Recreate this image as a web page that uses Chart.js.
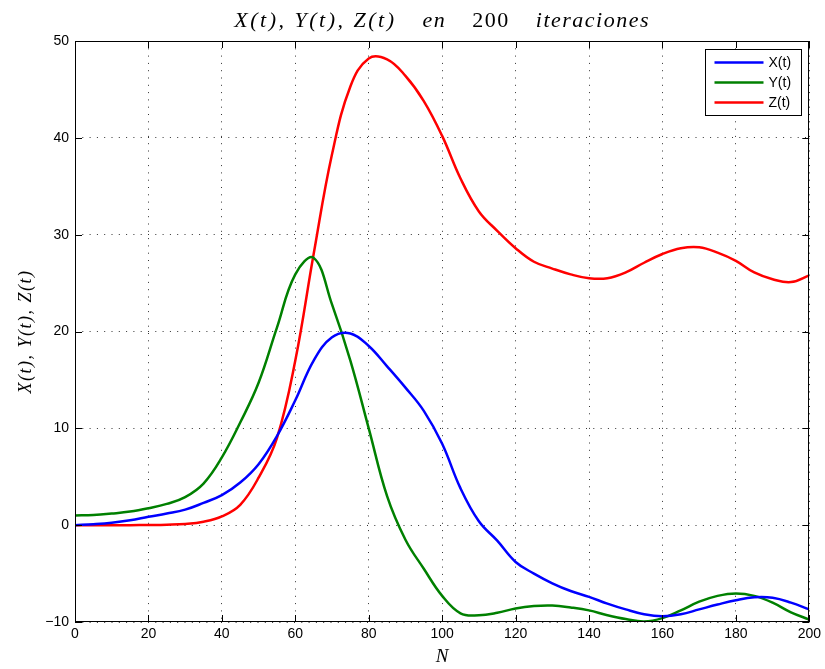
<!DOCTYPE html>
<html>
<head>
<meta charset="utf-8">
<script src="https://cdn.jsdelivr.net/npm/chart.js@4.4.0/dist/chart.umd.min.js"></script>
<style>
html, body { margin: 0; padding: 0; background: #fff; }
</style>
</head>
<body>
<canvas id="lorenz" width="825" height="669"></canvas>
<script>
// iteraciones (eje N)
var pasos = [0, 5, 10, 15, 20, 25, 30, 35, 40, 45, 50, 55, 60, 65, 70, 75, 80, 85, 90, 95, 100,
	105, 110, 115, 120, 125, 130, 135, 140, 145, 150, 155, 160, 165, 170, 175, 180, 185, 190, 195, 200];

var serieX = [0.0, 0.1, 0.25, 0.5, 0.86, 1.2, 1.6, 2.3, 3.1, 4.4, 6.3, 9.2, 12.9, 17.0, 19.4, 19.8, 18.5, 16.4, 14.2, 11.8, 8.4,
	3.8, 0.4, -1.6, -3.8, -5.0, -6.0, -6.8, -7.4, -8.1, -8.7, -9.2, -9.4, -9.2, -8.7, -8.2, -7.75, -7.45, -7.5, -8.0, -8.7];

var serieY = [1.0, 1.05, 1.2, 1.4, 1.75, 2.2, 2.9, 4.3, 7.0, 10.6, 14.7, 20.4, 25.9, 27.6, 22.8, 17.0, 10.0, 3.0, -1.5, -4.5, -7.3,
	-9.1, -9.3, -9.05, -8.6, -8.35, -8.3, -8.5, -8.8, -9.3, -9.7, -9.95, -9.6, -8.8, -7.9, -7.3, -7.05, -7.3, -8.0, -9.0, -9.75];

var serieZ = [0.0, 0.0, 0.0, 0.0, 0.02, 0.05, 0.12, 0.35, 0.9, 2.1, 4.9, 9.0, 17.0, 28.0, 38.3, 45.3, 48.2, 48.1, 46.4, 43.8, 40.2,
	35.8, 32.4, 30.4, 28.6, 27.2, 26.5, 25.9, 25.5, 25.5, 26.1, 27.1, 28.0, 28.6, 28.7, 28.15, 27.3, 26.1, 25.4, 25.1, 25.8];

var ticksN = [0, 20, 40, 60, 80, 100, 120, 140, 160, 180, 200];
var ticksV = [-10, 0, 10, 20, 30, 40, 50];

var etiquetas = ['X(t)', 'Y(t)', 'Z(t)'];
var colores = ['#0000ff', '#008000', '#ff0000'];

// titulo por partes (la parte en cursiva va como texto matematico)
var titulo = [
	{t: 'X(t), Y(t), Z(t)', cursiva: true, esp: 2.5},
	{t: 'en', cursiva: true, esp: 1.5},
	{t: '200', cursiva: false, esp: 1.5},
	{t: 'iteraciones', cursiva: true, esp: 1.5}
];
var tituloY = 'X(t), Y(t), Z(t)';

function puntos(serie) {
	var p = [];
	for (var i in pasos) {
		p.push({x: pasos[i], y: serie[i]});
	}
	return p;
}

var serif = 'Liberation Serif, Times New Roman, serif';
var fuenteEje = {family: 'Liberation Sans, Arial, sans-serif', size: 14};

// marco, marcas interiores, titulos y leyenda al estilo matlab
var marco = {
	id: 'marco',
	afterDraw: function(chart) {
		var ctx = chart.ctx;
		var a = chart.chartArea;
		var sx = chart.scales.x, sy = chart.scales.y;
		var L = 7;
		ctx.save();
		ctx.strokeStyle = '#000';
		ctx.lineWidth = 1;
		ctx.strokeRect(Math.round(a.left) + 0.5, Math.round(a.top) + 0.5,
			Math.round(a.right - a.left) - 1, Math.round(a.bottom - a.top) - 1);
		ctx.beginPath();
		for (var i in ticksN) {
			var px = Math.round(sx.getPixelForValue(ticksN[i])) + 0.5;
			ctx.moveTo(px, a.bottom); ctx.lineTo(px, a.bottom - L);
			ctx.moveTo(px, a.top); ctx.lineTo(px, a.top + L);
		}
		for (var j in ticksV) {
			var py = Math.round(sy.getPixelForValue(ticksV[j])) + 0.5;
			ctx.moveTo(a.left, py); ctx.lineTo(a.left + L, py);
			ctx.moveTo(a.right, py); ctx.lineTo(a.right - L, py);
		}
		ctx.stroke();

		// leyenda
		var bw = 96, bh = 66;
		var bx = Math.round(a.right - 8 - bw) + 0.5, by = Math.round(a.top + 8) + 0.5;
		ctx.fillStyle = '#fff';
		ctx.fillRect(bx, by, bw, bh);
		ctx.strokeRect(bx, by, bw, bh);
		ctx.font = '14px Liberation Sans, Arial, sans-serif';
		ctx.textBaseline = 'middle';
		ctx.textAlign = 'left';
		chart.data.datasets.forEach(function(ds, k) {
			var yy = by + 13 + k * 20;
			ctx.strokeStyle = ds.borderColor;
			ctx.lineWidth = 2.5;
			ctx.beginPath();
			ctx.moveTo(bx + 9, yy); ctx.lineTo(bx + 58, yy);
			ctx.stroke();
			ctx.fillStyle = '#000';
			ctx.fillText(ds.label, bx + 63, yy + 1);
		});

		// titulo
		ctx.fillStyle = '#000';
		ctx.textBaseline = 'alphabetic';
		var hueco = 26, total = 0;
		titulo.forEach(function(p) {
			ctx.font = (p.cursiva ? 'italic ' : '') + '22px ' + serif;
			ctx.letterSpacing = p.esp + 'px';
			p.w = ctx.measureText(p.t).width;
			total += p.w;
		});
		total += hueco * (titulo.length - 1);
		var x0 = (a.left + a.right) / 2 - total / 2;
		titulo.forEach(function(p) {
			ctx.font = (p.cursiva ? 'italic ' : '') + '22px ' + serif;
			ctx.letterSpacing = p.esp + 'px';
			ctx.fillText(p.t, x0, 27);
			x0 += p.w + hueco;
		});

		// titulo del eje vertical
		ctx.font = 'italic 18px ' + serif;
		ctx.letterSpacing = '1.5px';
		ctx.textAlign = 'center';
		ctx.textBaseline = 'middle';
		ctx.translate(26, (a.top + a.bottom) / 2);
		ctx.rotate(-Math.PI / 2);
		ctx.fillText(tituloY, 0, 0);
		ctx.restore();
	}
};

var datasets = [serieX, serieY, serieZ].map(function(s, k) {
	return {
		label: etiquetas[k],
		data: puntos(s),
		borderColor: colores[k],
		backgroundColor: colores[k],
		borderWidth: 2.5,
		pointRadius: 0,
		fill: false,
		tension: 0.4
	};
});

var ctx = document.getElementById('lorenz');
new Chart(ctx, {
	type: 'line',
	data: {datasets: datasets},
	plugins: [marco],
	options: {
		responsive: false,
		animation: false,
		layout: {padding: {left: 0, right: 14, top: 41, bottom: 0}},
		plugins: {
			legend: {display: false},
			tooltip: {enabled: false},
			title: {display: false}
		},
		scales: {
			x: {
				type: 'linear',
				min: ticksN[0],
				max: ticksN[ticksN.length - 1],
				afterFit: function(s) { s.height = 47; },
				ticks: {stepSize: ticksN[1] - ticksN[0], color: '#000', font: fuenteEje, padding: 4, maxRotation: 0},
				grid: {color: '#333', drawTicks: false, lineWidth: 1},
				border: {display: false, dash: [1, 6.3]},
				title: {
					display: true,
					text: 'N',
					color: '#000',
					font: {family: serif, style: 'italic', size: 19},
					padding: {top: 0, bottom: 1}
				}
			},
			y: {
				min: ticksV[0],
				max: ticksV[ticksV.length - 1],
				afterFit: function(s) { s.width = 75; },
				ticks: {
					stepSize: ticksV[1] - ticksV[0],
					color: '#000',
					font: fuenteEje,
					padding: 6,
					callback: function(v) { return String(v).replace('-', '\u2212'); }
				},
				grid: {color: '#333', drawTicks: false, lineWidth: 1},
				border: {display: false, dash: [1, 6.3]}
			}
		}
	}
});
</script>
</body>
</html>
